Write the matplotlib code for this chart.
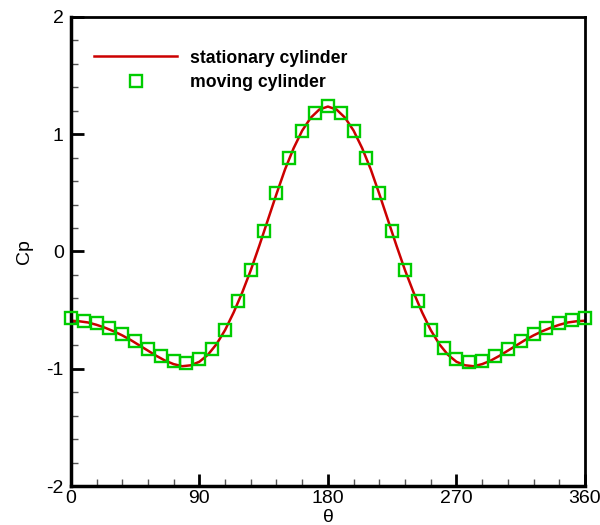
import matplotlib
matplotlib.use('Agg')
import matplotlib.pyplot as plt
from matplotlib.ticker import MultipleLocator

plt.rcParams['font.family'] = ['Liberation Sans', 'DejaVu Sans']
plt.rcParams['axes.unicode_minus'] = False

# stationary cylinder (line), read every 6 degrees
theta_line = list(range(0, 361, 6))
cp_line = [-0.59, -0.595, -0.605, -0.625, -0.65, -0.68, -0.715, -0.755, -0.80, -0.845,
           -0.89, -0.93, -0.96, -0.978, -0.97, -0.94, -0.88, -0.79, -0.67, -0.52,
           -0.35, -0.16, 0.05, 0.27, 0.49, 0.70, 0.88, 1.03, 1.14, 1.21,
           1.235,
           1.21, 1.14, 1.03, 0.88, 0.70, 0.49, 0.27, 0.05, -0.16, -0.35,
           -0.52, -0.67, -0.79, -0.88, -0.94, -0.97, -0.978, -0.96, -0.93, -0.89,
           -0.845, -0.80, -0.755, -0.715, -0.68, -0.65, -0.625, -0.605, -0.595, -0.59]

# moving cylinder (squares), every 9 degrees
theta_pts = list(range(0, 361, 9))
cp_pts = [-0.57, -0.59, -0.61, -0.65, -0.70, -0.765, -0.83, -0.89, -0.93, -0.95,
          -0.92, -0.83, -0.665, -0.425, -0.155, 0.175, 0.50, 0.80, 1.03, 1.18,
          1.24,
          1.18, 1.03, 0.80, 0.50, 0.175, -0.155, -0.425, -0.67, -0.825, -0.92,
          -0.945, -0.935, -0.89, -0.83, -0.765, -0.705, -0.65, -0.61, -0.58, -0.57]

fig = plt.figure(figsize=(6, 5.25), dpi=100)
ax = fig.add_axes([0.118, 0.074, 0.857, 0.894])

ax.plot(theta_line, cp_line, color='#cc0000', lw=1.8, label='stationary cylinder', zorder=2)
ax.plot(theta_pts, cp_pts, ls='none', marker='s', ms=9, mfc='none', mec='#00cc00',
        mew=1.7, label='moving cylinder', zorder=3, clip_on=False)

ax.set_xlim(0, 360)
ax.set_ylim(-2, 2)
ax.xaxis.set_major_locator(MultipleLocator(90))
ax.xaxis.set_minor_locator(MultipleLocator(18))
ax.yaxis.set_major_locator(MultipleLocator(1))
ax.yaxis.set_minor_locator(MultipleLocator(0.2))

ax.tick_params(which='both', direction='in', top=False, right=False, labelsize=14)
ax.tick_params(which='major', length=9, width=2)
ax.tick_params(which='minor', length=5, width=1, color='#555555')
ax.tick_params(axis='x', pad=3)
ax.tick_params(axis='y', pad=5)

for s in ['left', 'bottom']:
    ax.spines[s].set_linewidth(2.5)
for s in ['top', 'right']:
    ax.spines[s].set_linewidth(2)

ax.set_xlabel('θ', fontsize=14, labelpad=1)
ax.set_ylabel('Cp', fontsize=14, labelpad=10)

ax.legend(loc='upper left', bbox_to_anchor=(0.046, 0.93), frameon=False,
          borderpad=0, borderaxespad=0, handlelength=4.7, handletextpad=0.7,
          labelspacing=0.4, numpoints=1, markerscale=0.9,
          prop={'weight': 'bold', 'size': 12.7})

fig.savefig('out.png', dpi=100)
